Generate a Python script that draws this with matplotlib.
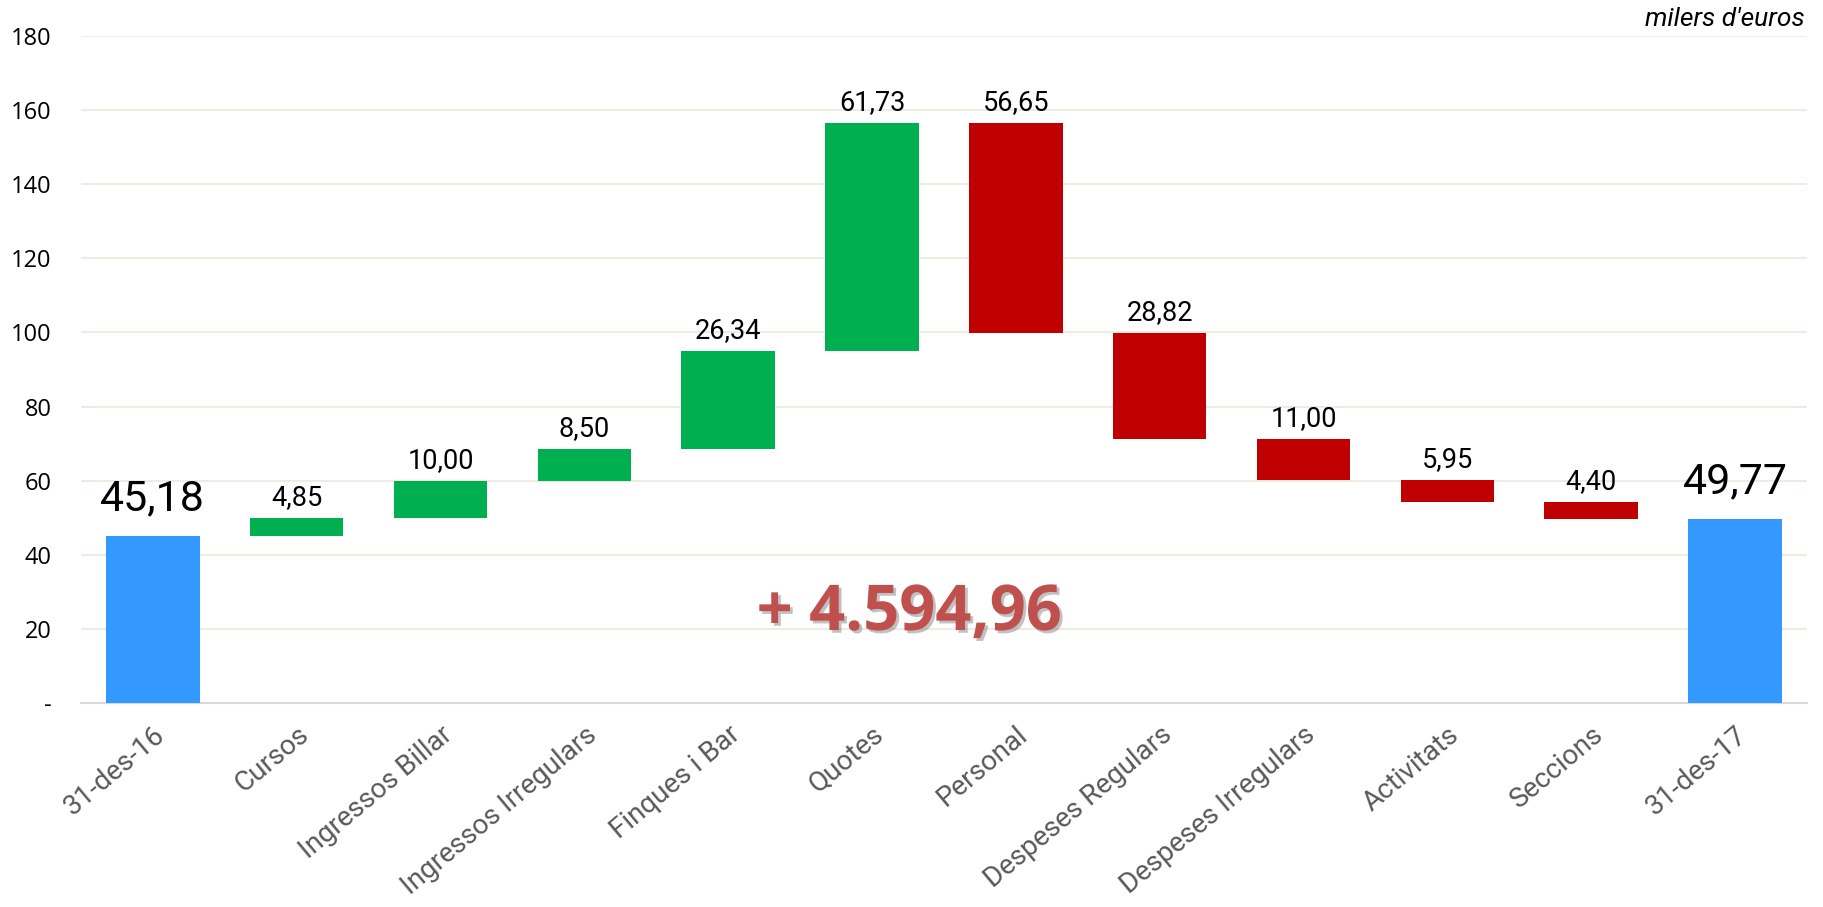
#!/usr/bin/env python3

import numpy as np
import matplotlib
matplotlib.use("Agg")
import matplotlib.pyplot as plt
import matplotlib.patheffects as pe

# waterfall data (milers d'euros)
categories = ["31-des-16", "Cursos", "Ingressos Billar", "Ingressos Irregulars",
              "Finques i Bar", "Quotes", "Personal", "Despeses Regulars",
              "Despeses Irregulars", "Activitats", "Seccions", "31-des-17"]
start_total = 45.18
end_total = 49.77
changes = [4.85, 10.00, 8.50, 26.34, 61.73,
           -56.65, -28.82, -11.00, -5.95, -4.40]
yticks = [0, 20, 40, 60, 80, 100, 120, 140, 160, 180]
ytick_labels = ["-", "20", "40", "60", "80", "100", "120", "140", "160", "180"]
result_text = "+ 4.594,96"


def fmt(v):
    return f"{abs(v):.2f}".replace(".", ",")


plt.rcParams["font.family"] = ["Roboto", "DejaVu Sans"]

BLUE = "#3399FF"
GREEN = "#00B050"
RED = "#C00000"

fig = plt.figure(figsize=(18.23, 9.07), dpi=100)
ax = fig.add_axes([0.0444, 0.2249, 0.9468, 0.7354])

# ------------------------------------------------------------
# bars
# ------------------------------------------------------------
x = np.arange(len(categories))
width = 0.65

ax.bar(x[0], start_total, width=width, color=BLUE, zorder=3)
ax.annotate(fmt(start_total), (x[0], start_total), xytext=(0, 12),
            textcoords="offset points", ha="center", va="bottom",
            fontsize=31, color="black", zorder=4)

level = start_total
for i, c in enumerate(changes, start=1):
    bottom = level if c >= 0 else level + c
    top = bottom + abs(c)
    ax.bar(x[i], abs(c), bottom=bottom, width=width,
           color=GREEN if c >= 0 else RED, zorder=3)
    ax.annotate(fmt(c), (x[i], top), xytext=(0, 5), textcoords="offset points",
                ha="center", va="bottom", fontsize=19.5, color="black", zorder=4)
    level += c

ax.bar(x[-1], end_total, width=width, color=BLUE, zorder=3)
ax.annotate(fmt(end_total), (x[-1], end_total), xytext=(0, 12),
            textcoords="offset points", ha="center", va="bottom",
            fontsize=31, color="black", zorder=4)

# ------------------------------------------------------------
# axes styling
# ------------------------------------------------------------
ax.set_xlim(-0.5, len(categories) - 0.5)
ax.set_ylim(0, 180)
ax.set_yticks(yticks)
ax.set_yticklabels(ytick_labels, fontsize=17, family=["Open Sans", "DejaVu Sans"])
ax.yaxis.grid(True, color="#EEEBE3", linewidth=1.5, zorder=0)
ax.set_axisbelow(True)
ax.tick_params(axis="y", length=0, pad=21)
ax.tick_params(axis="x", length=0, pad=13)

ax.set_xticks(x)
ax.set_xticklabels(categories, rotation=40, ha="right", rotation_mode="anchor",
                   fontsize=20, color="#595959")

for s in ["top", "right", "left"]:
    ax.spines[s].set_visible(False)
ax.spines["bottom"].set_color("#D9D9D9")
ax.spines["bottom"].set_linewidth(1.5)

# ------------------------------------------------------------
# annotations
# ------------------------------------------------------------
ax.text(5.26, 19.7, result_text, ha="center", va="baseline",
        fontsize=45.5, fontweight="bold", color="#C0504D",
        family=["Open Sans", "DejaVu Sans"], zorder=5,
        path_effects=[pe.withSimplePatchShadow(offset=(2, -2),
                                               shadow_rgbFace="#777777",
                                               alpha=0.45)])

fig.text(0.990, 0.971, "milers d'euros", ha="right", va="baseline",
         fontsize=19, style="italic", color="black")

fig.savefig("out.png", dpi=100)
